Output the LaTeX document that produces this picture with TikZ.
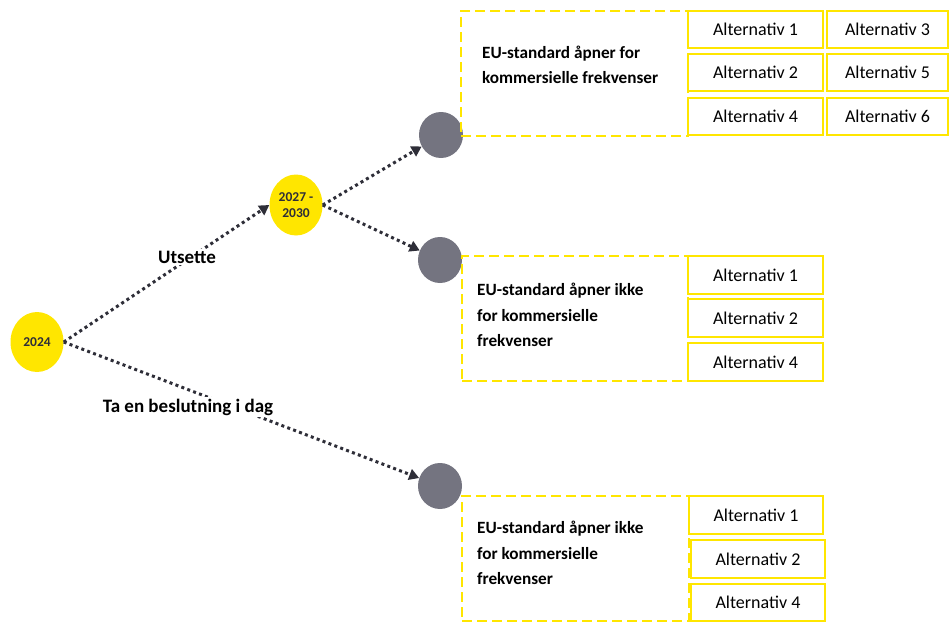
\documentclass[tikz,border=0pt]{standalone}
\usepackage{fontspec}
\setmainfont{Carlito}
\usetikzlibrary{arrows.meta,shapes.geometric}
\definecolor{eyY}{HTML}{FFE600}
\definecolor{eyG}{HTML}{747480}
\definecolor{arr}{HTML}{2E2E38}
\begin{document}
\begin{tikzpicture}[x=1pt,y=-1pt,
  yelnode/.style={ellipse, fill=eyY, inner sep=0, minimum width=53pt, minimum height=60pt, font=\fontsize{13.5}{16.5}\selectfont\bfseries, text=arr, align=center},
  graynode/.style={ellipse, fill=eyG, inner sep=0, minimum width=44pt, minimum height=46pt},
  dashbox/.style={draw=eyY, line width=2pt, dash pattern=on 10pt off 5pt, anchor=north west, inner sep=0, minimum height=125pt},
  altbox/.style={draw=eyY, line width=2pt, anchor=north west, inner sep=0, minimum width=135pt, minimum height=37pt, font=\fontsize{18}{20}\selectfont},
  eutext/.style={anchor=west, align=left, inner sep=0, font=\fontsize{17.2}{25.5}\selectfont\bfseries},
  lbl/.style={fill=white, inner sep=2pt, font=\fontsize{19}{22}\selectfont\bfseries},
  conn/.style={draw=arr, line width=3pt, dash pattern=on 3pt off 3.3pt, -{Triangle[length=10pt,width=11pt]}}
]
\useasboundingbox (0,0) rectangle (949,621);

% decision nodes
\node[yelnode] (n2024) at (37,342) {2024};
\node[yelnode, minimum height=61pt] (n2027) at (296,205) {2027 -\\2030};
\node[graynode] (g1) at (441,135) {};
\node[graynode] (g2) at (440,260) {};
\node[graynode] (g3) at (440,486) {};

% box 1
\node[dashbox, minimum width=227pt] (b1) at (460,10) {};
\node[eutext] (t1) at (482,65) {EU-standard åpner for\\kommersielle frekvenser};
\node[altbox] (a11) at (687,10) {Alternativ 1};
\node[altbox] (a12) at (687,53) {Alternativ 2};
\node[altbox] (a14) at (687,97) {Alternativ 4};
\node[altbox, minimum width=121pt] (a13) at (826,10) {Alternativ 3};
\node[altbox, minimum width=121pt] (a15) at (826,53) {Alternativ 5};
\node[altbox, minimum width=121pt] (a16) at (826,97) {Alternativ 6};

% box 2
\node[dashbox, minimum width=226pt] (b2) at (461,255) {};
\node[eutext] (t2) at (477,315) {EU-standard åpner ikke\\for kommersielle\\frekvenser};
\node[altbox, minimum height=38pt] (a21) at (687,255) {Alternativ 1};
\node[altbox, minimum height=38pt] (a22) at (687,298) {Alternativ 2};
\node[altbox, minimum height=38pt] (a24) at (687,342) {Alternativ 4};

% box 3
\node[dashbox, minimum width=227pt] (b3) at (461,495) {};
\node[eutext] (t3) at (477,553) {EU-standard åpner ikke\\for kommersielle\\frekvenser};
\node[altbox, minimum width=134pt, minimum height=38pt] (a31) at (688,495) {Alternativ 1};
\node[altbox, minimum width=134pt, minimum height=38pt] (a32) at (690,539) {Alternativ 2};
\node[altbox, minimum width=134pt, minimum height=37pt] (a34) at (690,583) {Alternativ 4};

% connectors
\draw[conn] (n2024.east) -- (n2027.west);
\draw[conn] (n2024.east) -- (g3);
\draw[conn] (n2027.east) -- (g1);
\draw[conn] (n2027.east) -- (g2);

% labels
\node[lbl] (l1) at (187,257) {Utsette};
\node[lbl] (l2) at (188,407) {Ta en beslutning i dag};
\end{tikzpicture}
\end{document}
